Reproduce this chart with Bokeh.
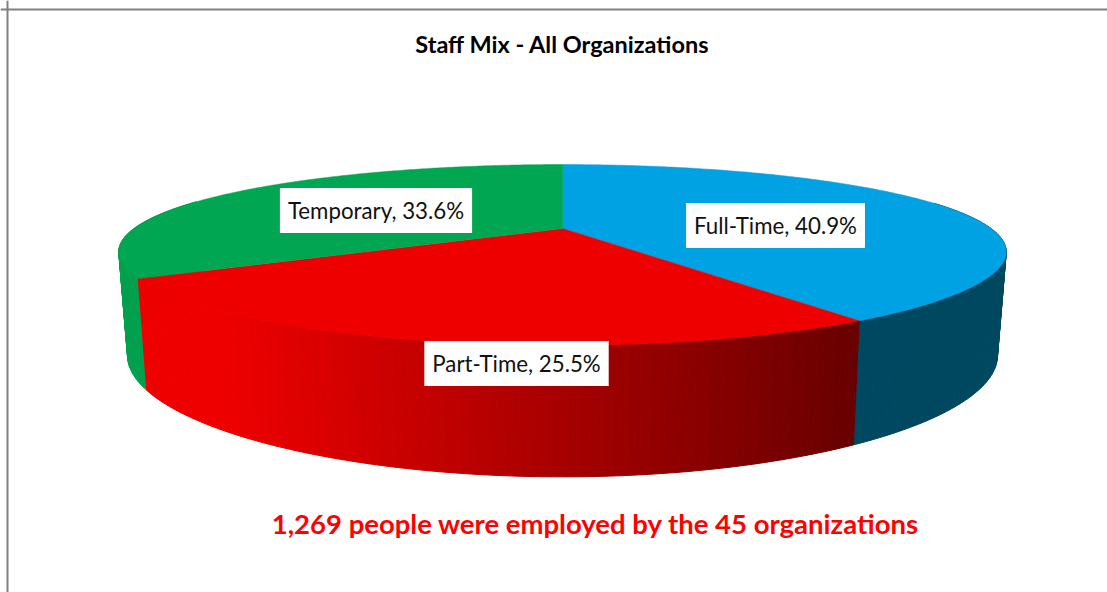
import numpy as np
from bokeh.plotting import figure
from bokeh.models import Range1d, Span
from bokeh.core.properties import value
from bokeh.embed import file_html
from bokeh.resources import INLINE

title = "Staff Mix - All Organizations"
note = "1,269 people were employed by the 45 organizations"
categories = ["Full-Time", "Part-Time", "Temporary"]
shares = [40.9, 25.5, 33.6]
top_colors = ["#00A2E3", "#EE0000", "#00A651"]
wall_left = [(0, 72, 98), (238, 0, 0), (0, 160, 78)]
wall_right = [(0, 72, 96), (104, 0, 0), (0, 166, 81)]

# camera model of the tilted disc (top face and bottom face)
CX, KX, KY = 562.0, -0.26, -0.293
TOP = dict(y0=228.0, a=82.7, b=428.5)
BOT = dict(y0=325.0, a=107.0, b=420.0)


def project(theta, face):
    u, v = np.sin(theta), -np.cos(theta)
    return CX + face["b"] * u / (1 + KX * v), face["y0"] + face["a"] * v / (1 + KY * v)


FONT = value("Lato")
p = figure(width=1107, height=592, x_range=Range1d(0, 1107), y_range=Range1d(592, 0),
           output_backend="svg", toolbar_location=None, min_border=0,
           outline_line_color=None, background_fill_color="white")
p.axis.visible = False
p.grid.visible = False

edges = np.cumsum([0] + shares) / sum(shares) * 2 * np.pi

# side walls, painted back to front
quads = []
for i in range(len(shares)):
    th = np.linspace(edges[i], edges[i + 1], 120)
    xt, yt = project(th, TOP)
    xb, yb = project(th, BOT)
    xmin, xmax = xt.min(), xt.max()
    for j in range(len(th) - 1):
        depth = -np.cos(th[j])
        if depth < -0.35:
            continue
        f = (0.5 * (xt[j] + xt[j + 1]) - xmin) / max(xmax - xmin, 1)
        f = float(np.clip((f - 0.12) / 0.88, 0, 1))
        r, g, b = [int(round(l + (m - l) * f)) for l, m in zip(wall_left[i], wall_right[i])]
        quads.append((depth, [xt[j], xt[j + 1], xb[j + 1], xb[j]],
                      [yt[j], yt[j + 1], yb[j + 1], yb[j]], "#%02x%02x%02x" % (r, g, b)))
quads.sort(key=lambda q: q[0])
qc = [q[3] for q in quads]
p.patches([q[1] for q in quads], [q[2] for q in quads], fill_color=qc, line_color=qc, line_width=1)

# top faces
for i in range(len(shares)):
    th = np.linspace(edges[i], edges[i + 1], 240)
    xs, ys = project(th, TOP)
    p.patch(np.r_[CX, xs], np.r_[TOP["y0"], ys], fill_color=top_colors[i],
            line_color=top_colors[i], line_width=0.5)

# frame
p.add_layout(Span(location=7, dimension="height", line_color="#808080", line_width=2))
p.add_layout(Span(location=9, dimension="width", line_color="#808080", line_width=2))

# texts
p.text([562], [43.5], text=[title], text_font=FONT, text_font_style="bold",
       text_font_size="23.5px", text_align="center", text_baseline="middle", text_color="#000000")
p.text([595], [523], text=[note], text_font=FONT, text_font_style="bold",
       text_font_size="27.5px", text_align="center", text_baseline="middle", text_color="#FF0000")

lab_x = [775, 516, 375.5]
lab_y = [225, 363, 210]
labels = [f"{c}, {s}%" for c, s in zip(categories, shares)]
p.text(lab_x, lab_y, text=labels, text_font=FONT, text_font_size="22.3px", text_align="center",
       text_baseline="middle", text_color="#111111", background_fill_color="white",
       padding=(8, 9))

open("out.html", "w").write(file_html(p, INLINE))
